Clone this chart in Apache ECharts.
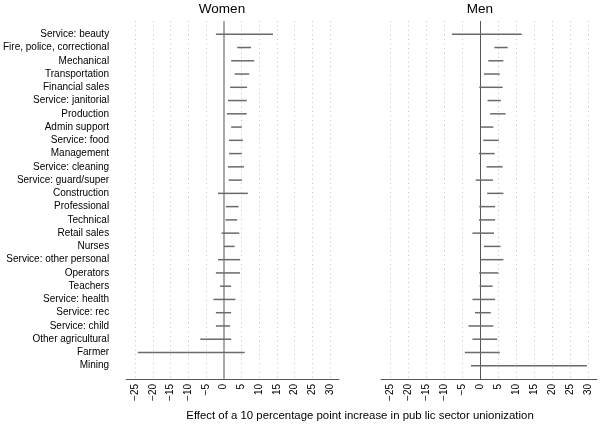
<!DOCTYPE html>
<html><head><meta charset="utf-8">
<script src="https://cdn.jsdelivr.net/npm/echarts@6/dist/echarts.min.js"></script>
<style>html,body{margin:0;padding:0;background:#fff}#c{width:600px;height:426px}</style>
</head><body><div id="c"></div>
<script>
var categories = ["Service: beauty","Fire, police, correctional","Mechanical","Transportation","Financial sales","Service: janitorial","Production","Admin support","Service: food","Management","Service: cleaning","Service: guard/super","Construction","Professional","Technical","Retail sales","Nurses","Service: other personal","Operators","Teachers","Service: health","Service: rec","Service: child","Other agricultural","Farmer","Mining"];
var womenLow  = [-2.2,3.8,2.1,3.1,1.8,1.2,0.9,2.1,1.5,1.5,1.2,1.4,-1.6,0.6,0.5,-0.6,0.1,-1.6,-2.2,-1.0,-2.9,-2.2,-2.2,-6.6,-24.2,null];
var womenHigh = [13.9,7.7,8.6,7.2,6.6,6.5,6.5,5.1,5.4,5.1,5.7,5.1,6.8,4.2,3.8,4.4,3.1,4.6,4.6,2.1,3.3,2.1,1.8,2.1,5.9,null];
var menLow  = [-7.8,4.0,2.3,1.1,-0.2,2.1,2.8,0.3,0.9,-0.3,1.8,-1.2,2.0,-0.2,-0.3,-2.1,1.1,0.3,-0.2,-0.1,-2.1,-1.4,-3.2,-2.1,-4.2,-2.5];
var menHigh = [11.6,7.7,6.5,5.5,6.3,5.8,7.1,3.7,5.2,4.1,6.3,3.6,6.5,4.2,4.2,3.9,5.7,6.5,5.1,3.5,4.2,3.0,3.7,4.8,5.5,29.7];
var tickValues = [-25,-20,-15,-10,-5,0,5,10,15,20,25,30];
var panelTitles = ["Women","Men"];
var xTitle = "Effect of a 10 percentage point increase in pub lic sector unionization";

var FONT = "Liberation Sans";
function rows(lo, hi){
  var out = [];
  for (var i=0;i<categories.length;i++){ if (lo[i]!=null && hi[i]!=null) out.push([lo[i], hi[i], i+1]); }
  return out;
}
function renderBar(params, api){
  var a = api.coord([api.value(0), api.value(2)]);
  var b = api.coord([api.value(1), api.value(2)]);
  return {type:'line', shape:{x1:a[0],y1:a[1],x2:b[0],y2:b[1]}, style:{stroke:'#6a6a6a', lineWidth:1.5}};
}
function xAxisDef(gi){
  return {type:'value', gridIndex:gi, min:-27.5, max:32.5,
    axisLine:{show:true, onZero:false, lineStyle:{color:'#555', width:1}},
    axisTick:{show:false}, splitLine:{show:false},
    axisLabel:{customValues:tickValues, rotate:90, fontFamily:FONT, fontSize:10, color:'#000', margin:5,
      formatter:function(v){return String(v).replace('-', '\u2212');}}};
}
function yAxisDef(gi, showLabels){
  return {type:'value', gridIndex:gi, min:0, max:27, interval:1, inverse:true,
    axisLine:{show:false}, axisTick:{show:false}, splitLine:{show:false},
    axisLabel:{show:showLabels, fontFamily:FONT, fontSize:10, color:'#000', margin:17,
      formatter:function(v){return categories[v-1] || '';}}};
}
function gridSeries(gi, zeroStyle){
  return {type:'custom', xAxisIndex:gi, yAxisIndex:gi, data:[], renderItem:function(){return null;},
    silent:true,
    markLine:{silent:true, symbol:'none', label:{show:false}, animation:false,
      data: tickValues.filter(function(t){return t!==0;}).map(function(t){return {xAxis:t, lineStyle:{color:'#c4c4c4', width:1, type:[1,3.5]}};})
        .concat([{xAxis:0, lineStyle:zeroStyle}])}};
}
var chart = echarts.init(document.getElementById('c'), null, {renderer:'canvas'});
chart.setOption({
  animation:false,
  backgroundColor:'#fff',
  grid:[{left:123, width:216, top:21, height:358},{left:381, width:216, top:21, height:358}],
  xAxis:[xAxisDef(0), xAxisDef(1)],
  yAxis:[yAxisDef(0,true), yAxisDef(1,false)],
  graphic:[
    {type:'text', x:222, y:9, style:{text:panelTitles[0], align:'center', verticalAlign:'middle', font:'13.5px "Liberation Sans"', fill:'#000'}},
    {type:'text', x:480, y:9, style:{text:panelTitles[1], align:'center', verticalAlign:'middle', font:'13.5px "Liberation Sans"', fill:'#000'}},
    {type:'text', x:360, y:416, style:{text:xTitle, align:'center', verticalAlign:'middle', font:'11.4px "Liberation Sans"', fill:'#000'}}
  ],
  series:[
    gridSeries(0, {color:'#aaaaaa', width:2, type:'solid'}),
    gridSeries(1, {color:'#555555', width:1, type:'solid'}),
    {type:'custom', xAxisIndex:0, yAxisIndex:0, data:rows(womenLow, womenHigh), renderItem:renderBar, z:5},
    {type:'custom', xAxisIndex:1, yAxisIndex:1, data:rows(menLow, menHigh), renderItem:renderBar, z:5}
  ]
});
</script></body></html>
